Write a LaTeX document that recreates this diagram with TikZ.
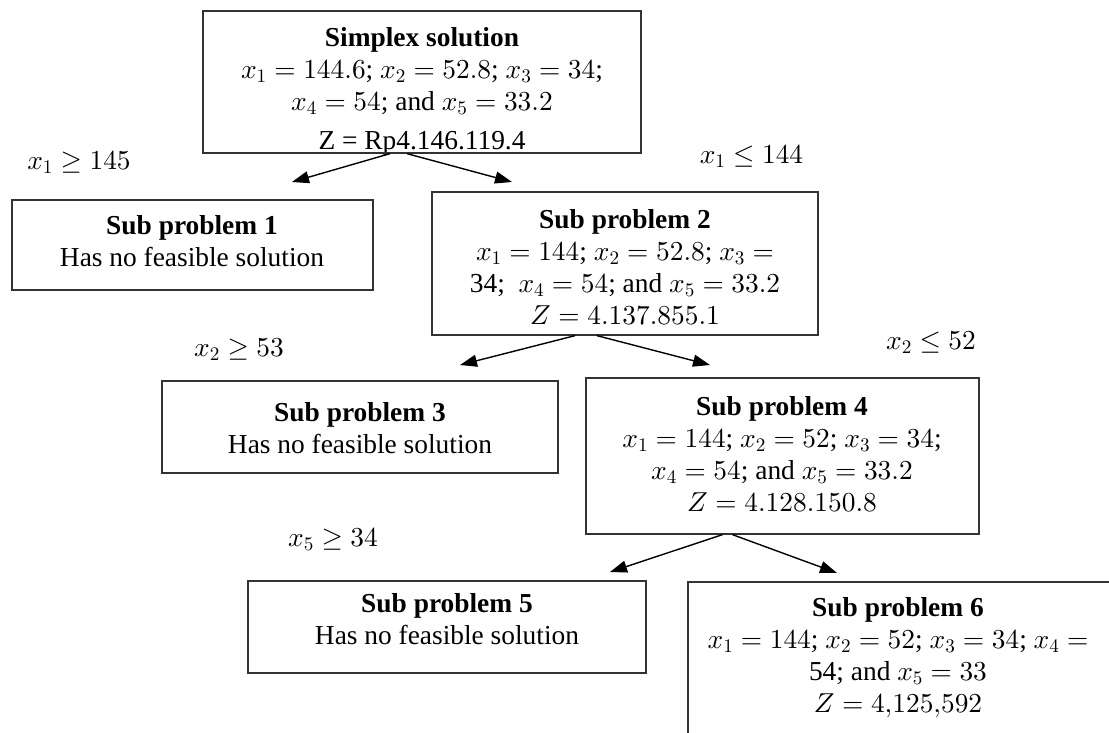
\documentclass[tikz,border=0pt]{standalone}
\usepackage{fontspec}
\setmainfont{Liberation Serif}[NFSSFamily=libser]
\DeclareFontShape{OML}{cmm}{m}{it}{<->cmmi10}{}
\DeclareFontShape{OMS}{cmsy}{m}{n}{<->cmsy10}{}
\DeclareFontShape{OT1}{cmr}{m}{n}{<->cmr10}{}
\AtBeginDocument{\DeclareSymbolFont{operators}{TU}{libser}{m}{n}}
\usetikzlibrary{arrows.meta}
\newcommand\diafont{\fontsize{27.4}{32}\selectfont}
\begin{document}
\begin{tikzpicture}[x=1pt,y=-1pt,
  box/.style={draw=black!80, line width=1.3pt, rectangle, inner sep=0pt},
  txt/.style={align=center, inner sep=0pt, font=\diafont},
  lbl/.style={inner sep=0pt, font=\diafont},
  arr/.style={draw=black, line width=1.4pt, -{Triangle[length=17pt,width=12pt]}}]
\useasboundingbox (0,0) rectangle (1109,733);
\fill[white] (0,0) rectangle (1109,733);
\clip (0,0) rectangle (1109,733);

% texts
\node[txt] (t0) at (422,91) {\textbf{Simplex solution}\\ $x_1 = 144.6$; $x_2 = 52.8$; $x_3 = 34$;\\ $x_4 = 54$; and $x_5 = 33.2$\\[7pt] Z = Rp4.146.119.4};
\node[txt] (t1) at (192,241) {\textbf{Sub problem 1}\\ Has no feasible solution};
\node[txt] (t2) at (625,267) {\textbf{Sub problem 2}\\ $x_1 = 144$; $x_2 = 52.8$; $x_3 =$\\ 34;\ \ $x_4 = 54$; and $x_5 = 33.2$\\ $Z = 4.137.855.1$};
\node[txt] (t3) at (360,428) {\textbf{Sub problem 3}\\ Has no feasible solution};
\node[txt] (t4) at (782,453.5) {\textbf{Sub problem 4}\\ $x_1 = 144$; $x_2 = 52$; $x_3 = 34$;\\ $x_4 = 54$; and $x_5 = 33.2$\\ $Z = 4.128.150.8$};
\node[txt] (t5) at (447,619) {\textbf{Sub problem 5}\\ Has no feasible solution};
\node[txt] (t6) at (898,658) {\textbf{Sub problem 6}\\ $x_1 = 144$; $x_2 = 52$; $x_3 = 34$; $x_4 =$\\ 54; and $x_5 = 33$\\ $Z = 4{,}125{,}592$};

% boxes
\node[box, minimum width=438pt, minimum height=142pt] (s0) at (422,82) {};
\node[box, minimum width=361pt, minimum height=90pt] (s1) at (192.5,245) {};
\node[box, minimum width=386pt, minimum height=143pt] (s2) at (625,263.5) {};
\node[box, minimum width=396pt, minimum height=92pt] (s3) at (360,427) {};
\node[box, minimum width=393pt, minimum height=156pt] (s4) at (782.5,456) {};
\node[box, minimum width=398pt, minimum height=92pt] (s5) at (447,627) {};
\node[box, minimum width=452pt, minimum height=198pt] (s6) at (914,681) {};

% branch labels
\node[lbl] (l1) at (79,163) {$x_1 \geq 145$};
\node[lbl] (l2) at (751.5,157) {$x_1 \leq 144$};
\node[lbl] (l3) at (239,350) {$x_2 \geq 53$};
\node[lbl] (l4) at (931,343) {$x_2 \leq 52$};
\node[lbl] (l5) at (333,540) {$x_5 \geq 34$};

% arrow tips
\coordinate (a1) at (292,182);
\coordinate (a2) at (512,182);
\coordinate (a3) at (460,365);
\coordinate (a4) at (710,365);
\coordinate (a5) at (610,572);
\coordinate (a6) at (837,573);

% connectors
\draw[arr] ([xshift=-32pt]s0.south) -- (a1);
\draw[arr] ([xshift=-15pt]s0.south) -- (a2);
\draw[arr] ([xshift=-50pt]s2.south) -- (a3);
\draw[arr] ([xshift=-28pt]s2.south) -- (a4);
\draw[arr] ([xshift=-60pt]s4.south) -- (a5);
\draw[arr] ([xshift=-50pt]s4.south) -- (a6);
\end{tikzpicture}
\end{document}
